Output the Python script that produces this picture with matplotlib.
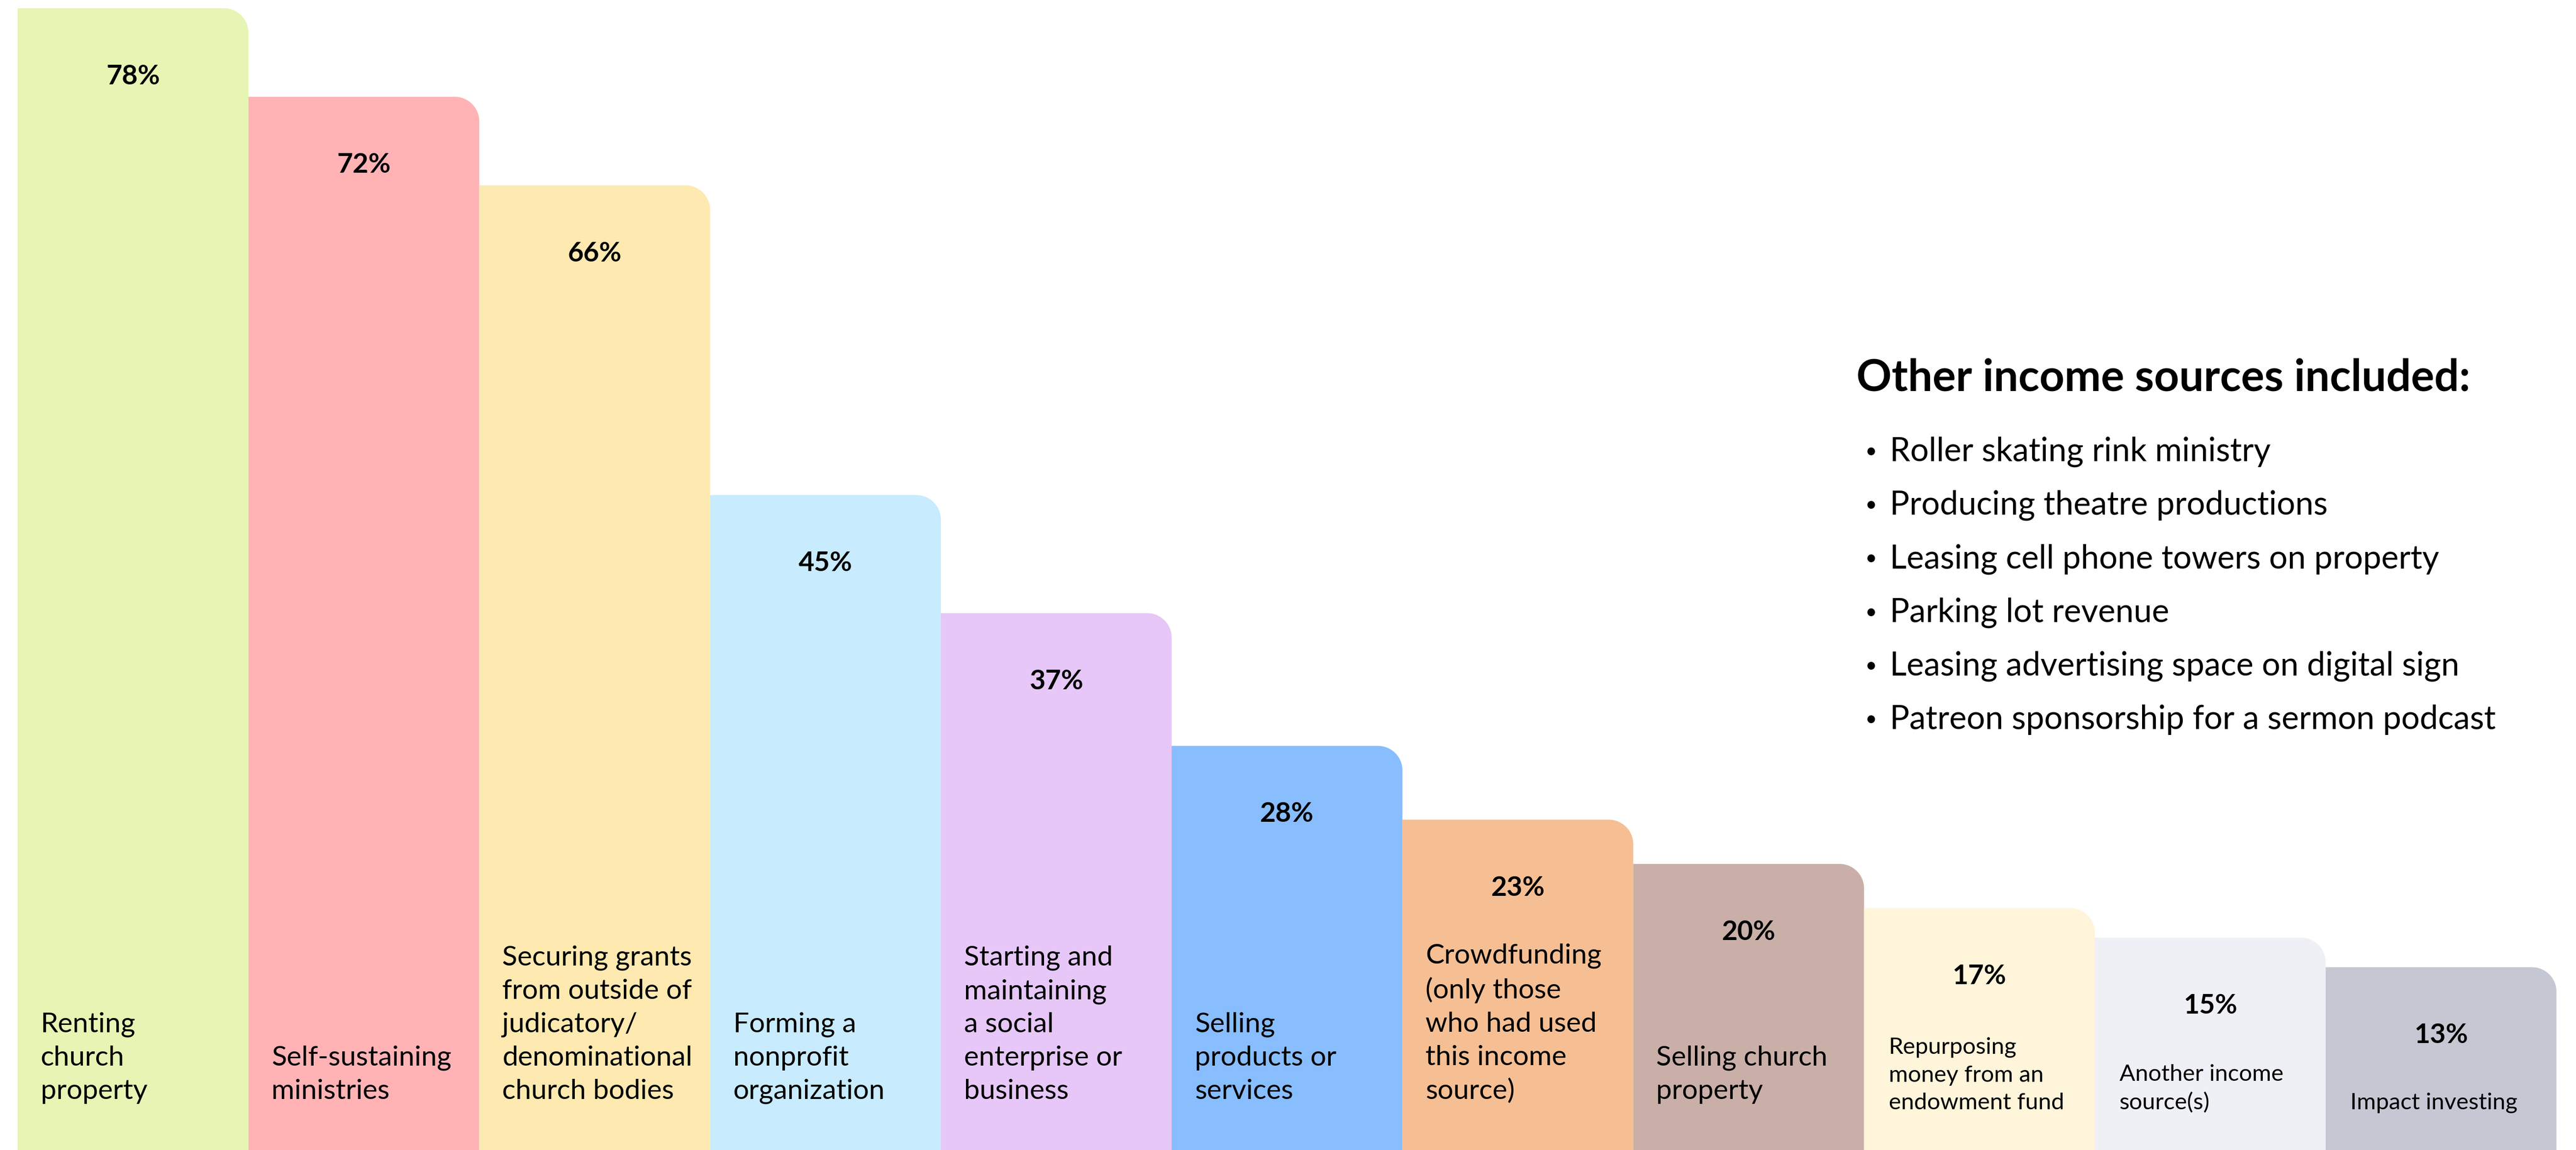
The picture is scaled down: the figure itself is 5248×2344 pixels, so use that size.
import matplotlib
matplotlib.use("Agg")
import matplotlib.pyplot as plt
from matplotlib.path import Path
from matplotlib.patches import PathPatch

plt.rcParams['font.family'] = ['Lato', 'DejaVu Sans']

# data
categories = [
    "Renting\nchurch\nproperty",
    "Self-sustaining\nministries",
    "Securing grants\nfrom outside of\njudicatory/\ndenominational\nchurch bodies",
    "Forming a\nnonprofit\norganization",
    "Starting and\nmaintaining\na social\nenterprise or\nbusiness",
    "Selling\nproducts or\nservices",
    "Crowdfunding\n(only those\nwho had used\nthis income\nsource)",
    "Selling church\nproperty",
    "Repurposing\nmoney from an\nendowment fund",
    "Another income\nsource(s)",
    "Impact investing",
]
values = [78, 72, 66, 45, 37, 28, 23, 20, 17, 15, 13]
colors = ["#E6F5B3", "#FFB3B5", "#FEE9B0", "#C8EBFD", "#E6C7F7", "#88BDFE",
          "#F6BF93", "#C9AFA8", "#FEF5DA", "#EFF0F6", "#C5C7D3"]
small_label = [False] * 8 + [True] * 3

other_title = "Other income sources included:"
other_items = [
    "Roller skating rink ministry",
    "Producing theatre productions",
    "Leasing cell phone towers on property",
    "Parking lot revenue",
    "Leasing advertising space on digital sign",
    "Patreon sponsorship for a sermon podcast",
]

W, H = 5248, 2344
fig = plt.figure(figsize=(W / 100, H / 100), dpi=100)
ax = fig.add_axes([0, 0, 1, 1])

bar_px = 470.2   # pixels per bar
px_per_pct = 30.07
left = -0.5 - 36 / bar_px
ax.set_xlim(left, left + W / bar_px)
ytop = 78.56
ax.set_ylim(ytop - H / px_per_pct, ytop)
ax.axis('off')

rx = 50 / bar_px
ry = 50 / px_per_pct
k = 0.5523

for i, (v, c) in enumerate(zip(values, colors)):
    x0, x1 = i - 0.5, i + 0.5
    verts = [(x0, 0), (x0, v), (x1 - rx, v),
             (x1 - rx + k * rx, v), (x1, v - ry + k * ry), (x1, v - ry),
             (x1, 0), (x0, 0)]
    codes = [Path.MOVETO, Path.LINETO, Path.LINETO,
             Path.CURVE4, Path.CURVE4, Path.CURVE4,
             Path.LINETO, Path.CLOSEPOLY]
    ax.add_patch(PathPatch(Path(verts, codes), facecolor=c, edgecolor='none'))

    # percentage label
    ax.text(i, v - 139 / px_per_pct, f"{v}%", ha='center', va='center',
            fontsize=40, fontweight='bold', color='black')

    # category label at bottom
    if small_label[i]:
        ax.text(x0 + 50 / bar_px, ytop - 2269 / px_per_pct, categories[i],
                ha='left', va='bottom', fontsize=34, linespacing=1.42, color='black')
    else:
        ax.text(x0 + 47 / bar_px, ytop - 2250 / px_per_pct, categories[i],
                ha='left', va='bottom', fontsize=41, linespacing=1.41, color='black')

# side note
fig.text(3782 / W, 1 - 770 / H, other_title, ha='left', va='center',
         fontsize=64, fontweight='bold', color='black')
for j, item in enumerate(other_items):
    y = 1 - (921 + j * 109.2) / H
    fig.text(3800 / W, y, "\u2022", ha='left', va='center', fontsize=30, color='black')
    fig.text(3850 / W, y, item, ha='left', va='center', fontsize=48, color='black')

fig.savefig("out.png", dpi=100)
